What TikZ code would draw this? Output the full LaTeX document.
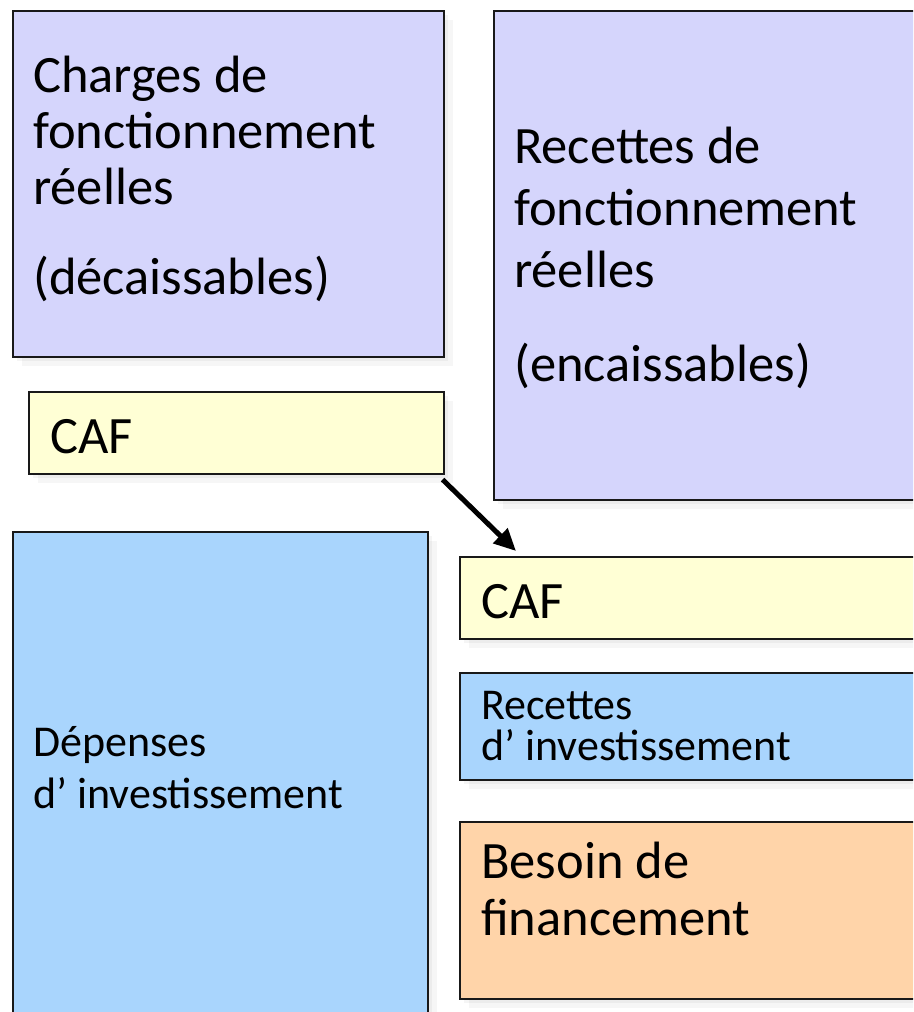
\documentclass[tikz,border=0pt]{standalone}
\usepackage{fontspec}
\setmainfont{Carlito}
\usetikzlibrary{shadows,arrows.meta}
\definecolor{lav}{HTML}{D5D5FC}
\definecolor{pyel}{HTML}{FFFFD5}
\definecolor{pblue}{HTML}{A9D5FD}
\definecolor{porange}{HTML}{FFD4A9}
\begin{document}
\begin{tikzpicture}[x=1pt,y=-1pt,
  box/.style={draw=black!90, line width=1.6pt, inner sep=0pt, anchor=north west,
    drop shadow={shadow xshift=4pt, shadow yshift=-4pt, fill=black, opacity=0.04},
    drop shadow={shadow xshift=9pt, shadow yshift=-9pt, fill=black, opacity=0.035}},
  lbl/.style={anchor=base west, align=left, inner sep=0pt},
  big/.style={font=\fontsize{52.5}{56}\selectfont},
  mid/.style={font=\fontsize{44}{52}\selectfont},
]
\useasboundingbox (0,0) rectangle (913,1012);
\clip (0,0) rectangle (913,1012);
\fill[white] (0,0) rectangle (913,1012);
% boxes
\node[box, fill=lav, minimum width=431pt, minimum height=346pt] (chg) at (12,10) {};
\node[box, fill=lav, minimum width=445pt, minimum height=489pt] (recf) at (493,10) {};
\node[box, fill=pyel, minimum width=415pt, minimum height=82pt] (cafl) at (28,391) {};
\node[box, fill=pblue, minimum width=415pt, minimum height=510pt] (dep) at (12,531) {};
\node[box, fill=pyel, minimum width=475pt, minimum height=82pt] (cafr) at (459,556) {};
\node[box, fill=pblue, minimum width=475pt, minimum height=107pt] (reci) at (459,672) {};
\node[box, fill=porange, minimum width=475pt, minimum height=177pt] (bes) at (459,821) {};
% labels (anchored at the baseline of their last line)
\node[lbl, big] (tchg) at (33,294) {Charges de\\fonctionnement\\réelles\\[34pt](décaissables)};
\node[lbl, font=\fontsize{52.5}{62}\selectfont] (trecf) at (514,381) {Recettes de\\fonctionnement\\réelles\\[32pt](encaissables)};
\node[lbl, big] (tcafl) at (50,453) {CAF};
\node[lbl, big] (tcafr) at (481,618) {CAF};
\node[lbl, font=\fontsize{44}{41}\selectfont] (treci) at (481,760) {Recettes\\d’ investissement};
\node[lbl, mid] (tdep) at (33,808) {Dépenses\\d’ investissement};
\node[lbl, font=\fontsize{52.5}{57}\selectfont] (tbes) at (481,935) {Besoin de\\financement};
% arrow
\draw[line width=5pt, -{Triangle[length=22pt,width=20pt]}]
  ([shift={(-2,5)}]cafl.south east) -- ([shift={(57,-5)}]cafr.north west);
\end{tikzpicture}
\end{document}
